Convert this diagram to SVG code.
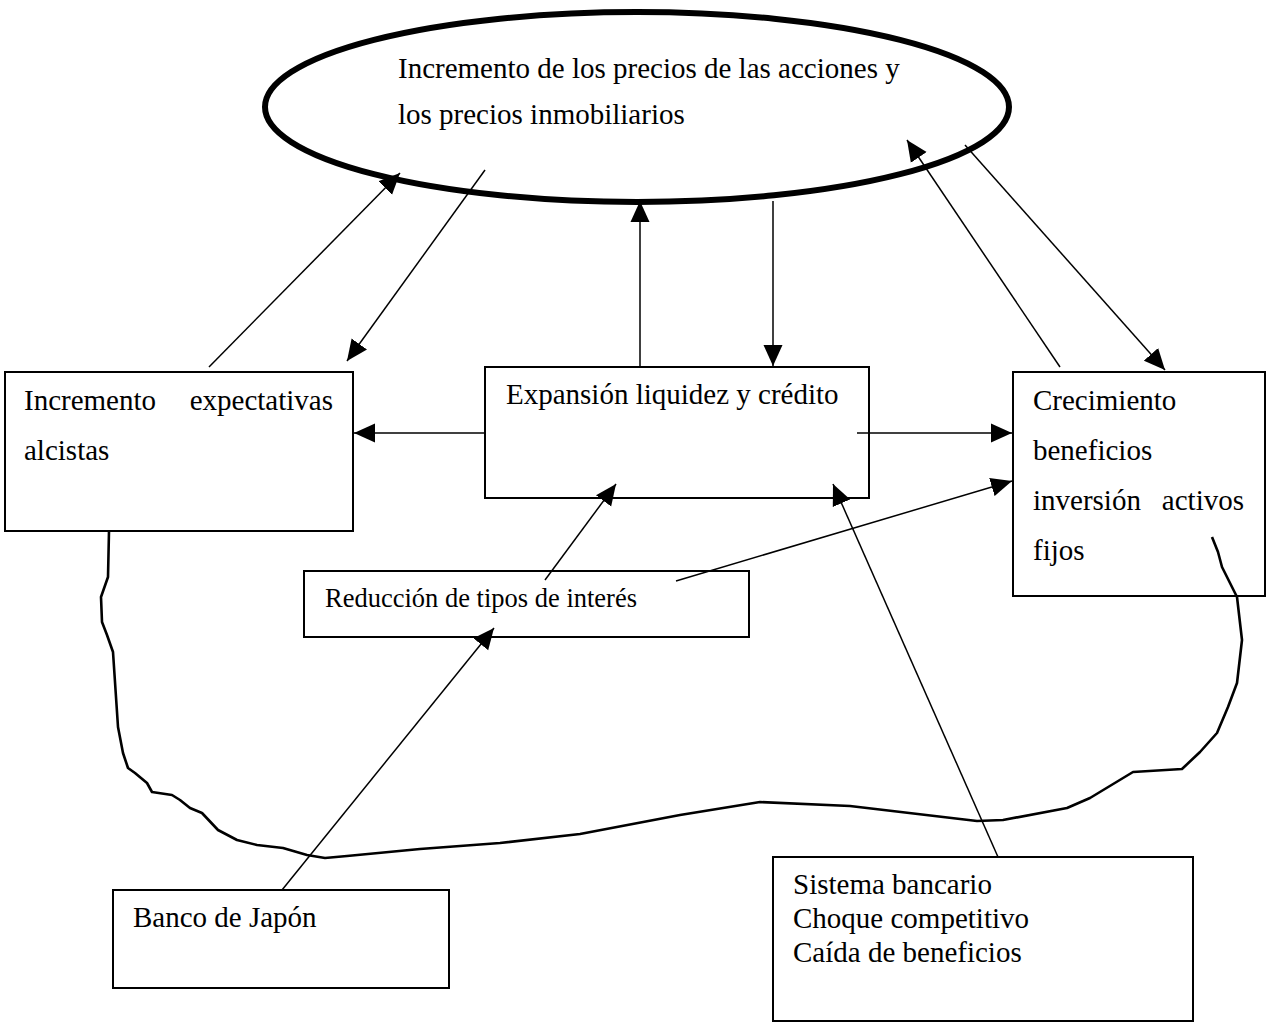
<svg xmlns="http://www.w3.org/2000/svg" width="1267" height="1024" viewBox="0 0 1267 1024">
<defs>
<marker id="ah" markerUnits="userSpaceOnUse" markerWidth="22" markerHeight="20" refX="21" refY="9.5" orient="auto" viewBox="0 0 22 19">
<path d="M0,0 L21,9.5 L0,19 Z" fill="#000"/>
</marker>
<style>
.box{fill:none;stroke:#000;stroke-width:2}
.t{font-family:"Liberation Serif","Times New Roman",serif;font-size:29px;fill:#000}
.ts{font-family:"Liberation Serif","Times New Roman",serif;font-size:26.5px;fill:#000}
.c{stroke:#000;stroke-width:1.6;fill:none}
.a{stroke:#000;stroke-width:1.5;fill:none;marker-end:url(#ah)}
</style>
</defs>
<rect width="1267" height="1024" fill="#fff"/>
<g id="n-precios">
<ellipse cx="637" cy="107" rx="372" ry="95" fill="none" stroke="#000" stroke-width="6"/>
<text class="t" x="398" y="78">Incremento de los precios de las acciones y</text>
<text class="t" x="398" y="124">los precios inmobiliarios</text>
</g>
<g id="n-expectativas">
<rect class="box" x="5" y="372" width="348" height="159"/>
<text class="t" x="24" y="410">Incremento</text>
<text class="t" x="333" y="410" text-anchor="end">expectativas</text>
<text class="t" x="24" y="460">alcistas</text>
</g>
<g id="n-expansion">
<rect class="box" x="485" y="367" width="384" height="131"/>
<text class="t" x="506" y="404">Expansión liquidez y crédito</text>
</g>
<g id="n-crecimiento">
<rect class="box" x="1013" y="372" width="252" height="224"/>
<text class="t" x="1033" y="410">Crecimiento</text>
<text class="t" x="1033" y="460">beneficios</text>
<text class="t" x="1033" y="510">inversión</text>
<text class="t" x="1244" y="510" text-anchor="end">activos</text>
<text class="t" x="1033" y="560">fijos</text>
</g>
<g id="n-reduccion">
<rect class="box" x="304" y="571" width="445" height="66"/>
<text class="ts" x="325" y="607">Reducción de tipos de interés</text>
</g>
<g id="n-banco">
<rect class="box" x="113" y="890" width="336" height="98"/>
<text class="t" x="133" y="927">Banco de Japón</text>
</g>
<g id="n-sistema">
<rect class="box" x="773" y="857" width="420" height="164"/>
<text class="t" x="793" y="894">Sistema bancario</text>
<text class="t" x="793" y="928">Choque competitivo</text>
<text class="t" x="793" y="962">Caída de beneficios</text>
</g>
<path id="wave" d="M109,531 L108,577 L101,597 L102,622 L107,635 L113,652 L116,697 L118,727 L123,753 L128,768 L135,773 L147,783 L152,792 L172,795 L180,800 L190,808 L202,813 L218,830 L237,840 L257,845 L283,848 L307,855 L325,858 L347,856 L420,849 L500,843 L580,834 L680,815 L760,802 L850,806 L977,821 L1003,820 L1067,808 L1090,798 L1133,772 L1182,769 L1200,752 L1217,733 L1228,707 L1237,683 L1242,640 L1237,597 L1232,587 L1222,567 L1218,552 L1212,537" fill="none" stroke="#000" stroke-width="2.6" stroke-linejoin="round"/>
<g id="connectors">
<line class="a" x1="209" y1="367" x2="400" y2="173"/>
<line class="a" x1="485" y1="170" x2="347" y2="361"/>
<line class="a" x1="640" y1="366" x2="640" y2="201"/>
<line class="a" x1="773" y1="201" x2="773" y2="366"/>
<line class="a" x1="1060" y1="367" x2="907" y2="140"/>
<line class="a" x1="965" y1="145" x2="1165" y2="370"/>
<line class="a" x1="485" y1="433" x2="354" y2="433"/>
<line class="a" x1="857" y1="433" x2="1012" y2="433"/>
<line class="a" x1="545" y1="580" x2="616" y2="484"/>
<line class="a" x1="676" y1="581" x2="1012" y2="481"/>
<line class="a" x1="998" y1="857" x2="833" y2="484"/>
<line class="a" x1="282" y1="890" x2="494" y2="628"/>
</g>
</svg>
